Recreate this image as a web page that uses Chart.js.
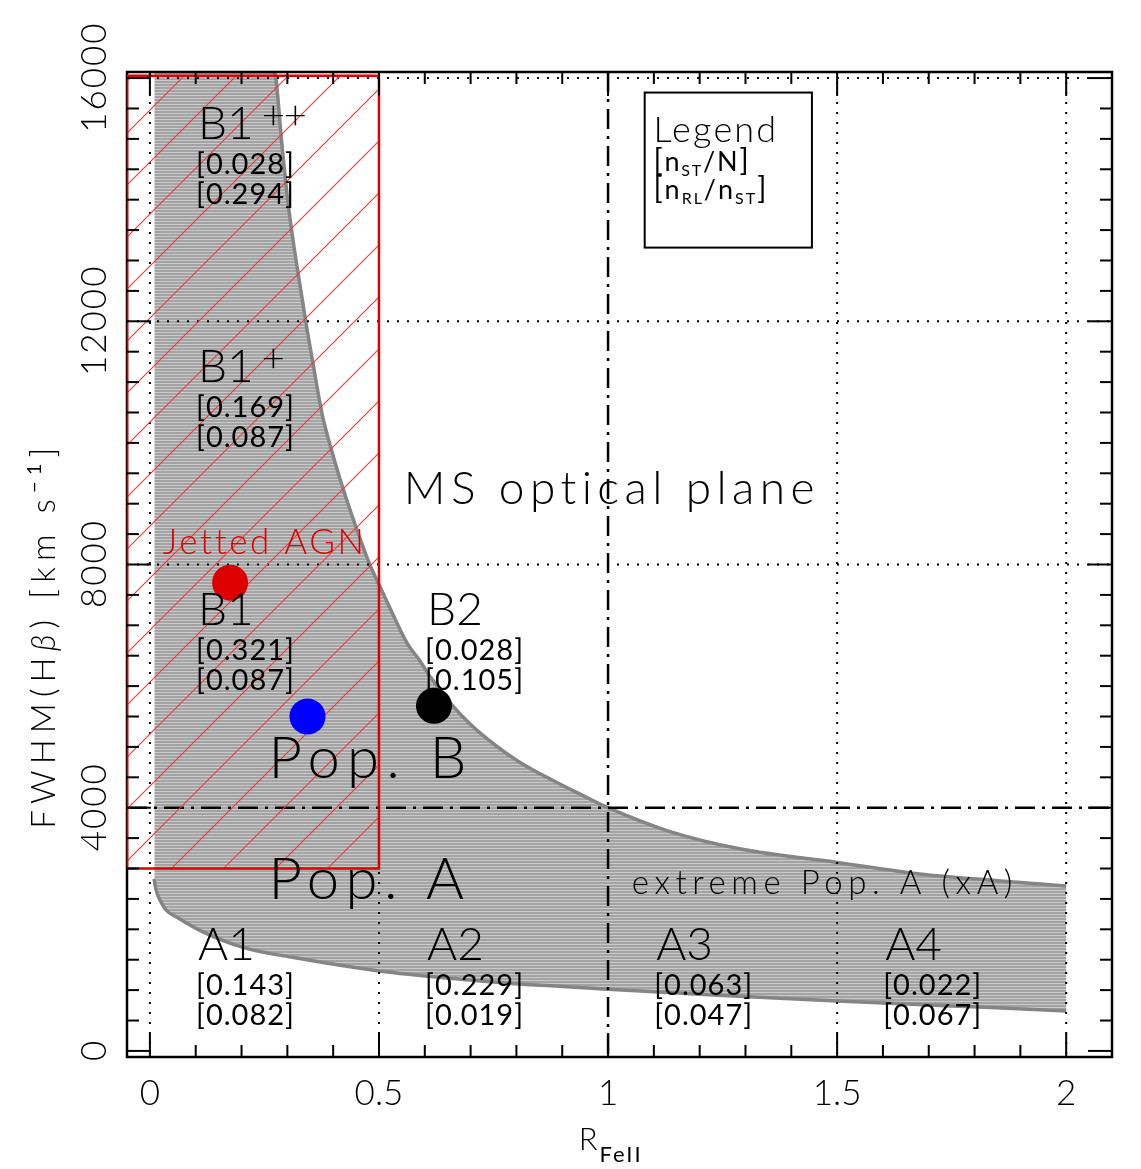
<!DOCTYPE html>
<html>
<head>
<meta charset="utf-8">
<title>MS optical plane</title>
<script src="https://cdn.jsdelivr.net/npm/chart.js"></script>
<style>
	html, body { margin: 0; padding: 0; background: #fff; }
	canvas { display: block; }
</style>
</head>
<body>
<canvas id="plane" width="1141" height="1169"></canvas>
<script>
// upper envelope of the populated region
const upperX = [0.272, 0.275, 0.287, 0.301, 0.316, 0.333, 0.340, 0.355, 0.376, 0.395, 0.416, 0.440, 0.480, 0.502, 0.526, 0.562, 0.590, 0.613, 0.664, 0.700, 0.737, 0.809, 0.882, 0.940, 1.000, 1.130, 1.290, 1.500, 1.680, 1.850, 2.000];
const upperY = [16100, 16000, 15000, 13980, 13150, 12340, 12000, 11350, 10470, 9920, 9380, 8830, 8000, 7640, 7250, 6700, 6410, 6140, 5650, 5370, 5130, 4740, 4440, 4220, 4000, 3620, 3320, 3100, 2910, 2800, 2714];
// lower envelope
const lowerX = [0.009, 0.012, 0.016, 0.023, 0.035, 0.060, 0.111, 0.205, 0.314, 0.500, 0.678, 0.790, 0.900, 1.000, 1.250, 1.500, 1.750, 2.000];
const lowerY = [2830, 2700, 2580, 2467, 2320, 2193, 1974, 1699, 1535, 1316, 1179, 1110, 1060, 1015, 912, 822, 740, 658];
const bandLeft = 0.01;

// jetted AGN box
const jetBoxX = [-0.05, 0.5];
const jetBoxY = [3000, 16040];

// median positions
const markerNames = ['Jetted', 'Pop. B', 'B2'];
const markerX = [0.175, 0.344, 0.620];
const markerY = [7700, 5500, 5675];

// spectral types and fractions [nST/N] [nRL/nST]
const groupNames = ['B1++', 'B1+', 'B1', 'B2', 'A1', 'A2', 'A3', 'A4'];
const fracST = ['0.028', '0.169', '0.321', '0.028', '0.143', '0.229', '0.063', '0.022'];
const fracRL = ['0.294', '0.087', '0.087', '0.105', '0.082', '0.019', '0.047', '0.067'];

// axes
const xTicks = [0, 0.5, 1, 1.5, 2];
const yTicks = [0, 4000, 8000, 12000, 16000];
const xGrid = [0, 0.5, 1.5, 2];
const yGrid = [8000, 12000, 16000];
const popSplitX = 1.0;
const popSplitY = 4000;

const FAMILY = 'Lato, "Open Sans", "DejaVu Sans", sans-serif';

const canvas = document.getElementById('plane');
const ctx = canvas.getContext('2d');

function stripes() {
	const c = document.createElement('canvas');
	c.width = 4; c.height = 3;
	const g = c.getContext('2d');
	g.fillStyle = '#a3a3a3'; g.fillRect(0, 0, 4, 2);
	g.fillStyle = '#c9c9c9'; g.fillRect(0, 2, 4, 1);
	return ctx.createPattern(c, 'repeat');
}
function hatch() {
	const s = 52;
	const c = document.createElement('canvas');
	c.width = s; c.height = s;
	const g = c.getContext('2d');
	g.strokeStyle = '#e83a3a';
	g.lineWidth = 1.1;
	g.beginPath();
	g.moveTo(-2, s + 2); g.lineTo(s + 2, -2);
	g.moveTo(-2, 2); g.lineTo(2, -2);
	g.moveTo(s - 2, s + 2); g.lineTo(s + 2, s - 2);
	g.stroke();
	return ctx.createPattern(c, 'repeat');
}

const pts = (xs, ys) => xs.map((x, i) => ({x: x, y: ys[i]}));
const upperPts = pts(upperX, upperY);
const lowerPts = pts(lowerX, lowerY);
const bandPts = [{x: bandLeft, y: lowerY[0]}, {x: bandLeft, y: upperY[0]}]
	.concat(upperPts, lowerPts.slice().reverse());
const boxPts = [
	{x: jetBoxX[0], y: jetBoxY[0]}, {x: jetBoxX[0], y: jetBoxY[1]},
	{x: jetBoxX[1], y: jetBoxY[1]}, {x: jetBoxX[1], y: jetBoxY[0]},
	{x: jetBoxX[0], y: jetBoxY[0]}
];

function setFont(c, size, style) {
	const weight = size <= 30 ? 400 : 300;
	c.font = (style || '') + ' ' + weight + ' ' + size + 'px ' + FAMILY;
}
function measure(c, t, sp) {
	c.letterSpacing = '0px';
	const w0 = c.measureText(t).width;
	if (!sp) return w0;
	c.letterSpacing = sp + 'px';
	const w1 = c.measureText(t).width;
	return Math.abs(w1 - w0) < 0.01 ? w0 + sp * t.length : w1;
}
// parts: [text, size, dy, style]
function rich(c, parts, x, y, target, color) {
	let w0 = 0, n = 0;
	for (const p of parts) { setFont(c, p[1], p[3]); w0 += measure(c, p[0], 0); n += p[0].length; }
	const sp = target ? (target - w0) / n : 0;
	let cx = x;
	c.fillStyle = color || '#000';
	c.textAlign = 'left';
	c.textBaseline = 'alphabetic';
	for (const p of parts) {
		setFont(c, p[1], p[3]);
		const w = measure(c, p[0], sp);
		c.letterSpacing = sp + 'px';
		c.fillText(p[0], cx, y + (p[2] || 0));
		cx += w;
	}
	c.letterSpacing = '0px';
	return cx - x;
}
function line(c, x0, y0, x1, y1) {
	c.beginPath(); c.moveTo(x0, y0); c.lineTo(x1, y1); c.stroke();
}

function drawGridAndFrame(chart) {
	const c = chart.ctx, a = chart.chartArea, sx = chart.scales.x, sy = chart.scales.y;
	c.save();
	c.strokeStyle = '#000';
	c.lineWidth = 2;
	c.setLineDash([2, 8]);
	for (const v of xGrid) { const p = sx.getPixelForValue(v); line(c, p, a.top, p, a.bottom); }
	for (const v of yGrid) { const p = sy.getPixelForValue(v); line(c, a.left, p, a.right, p); }
	c.lineWidth = 2.5;
	c.setLineDash([20, 7, 3, 7]);
	let p = sx.getPixelForValue(popSplitX); line(c, p, a.top, p, a.bottom);
	p = sy.getPixelForValue(popSplitY); line(c, a.left, p, a.right, p);
	c.setLineDash([]);
	c.lineWidth = 2.5;
	c.strokeRect(a.left, a.top, a.right - a.left, a.bottom - a.top);
	c.restore();
}

function drawTicks(chart) {
	const c = chart.ctx, a = chart.chartArea, sx = chart.scales.x, sy = chart.scales.y;
	c.save();
	c.strokeStyle = '#000';
	c.lineWidth = 2;
	for (let i = 0; i <= 20; i++) {
		const v = i / 10, len = i % 5 === 0 ? 24 : 12;
		const p = sx.getPixelForValue(v);
		line(c, p, a.bottom, p, a.bottom - len);
		line(c, p, a.top, p, a.top + len);
	}
	for (let i = 0; i <= 32; i++) {
		const v = i * 500, len = i % 8 === 0 ? 24 : 12;
		const p = sy.getPixelForValue(v);
		line(c, a.left, p, a.left + len, p);
		line(c, a.right, p, a.right - len, p);
	}
	c.restore();
}

function drawTexts(chart) {
	const c = chart.ctx, a = chart.chartArea, sx = chart.scales.x, sy = chart.scales.y;
	const X = v => sx.getPixelForValue(v), Y = v => sy.getPixelForValue(v);
	c.save();

	// y tick labels, rotated
	setFont(c, 35);
	c.fillStyle = '#000';
	for (const t of sy.ticks) {
		c.save();
		c.translate(a.left - 21, Y(t.value));
		c.rotate(-Math.PI / 2);
		c.textAlign = 'center';
		c.textBaseline = 'alphabetic';
		c.letterSpacing = '2px';
		c.fillText(String(t.value), 1, 0);
		c.restore();
	}
	c.letterSpacing = '0px';

	// y title
	c.save();
	c.translate(a.left - 72, Y(6830));
	c.rotate(-Math.PI / 2);
	const yParts = [['FWHM(H', 33], ['\u03b2', 33, 0, 'italic'], [') [km s', 33], ['\u22121', 20, -14], [']', 33]];
	rich(c, yParts, -193, 0, 387);
	c.restore();

	// x title
	rich(c, [['R', 31], ['FeII', 22, 12]], X(0.936), a.bottom + 93, 64);

	// spectral type labels
	const anchors = [[0.105, 15000], [0.105, 11000], [0.105, 7000], [0.605, 7000],
		[0.105, 1500], [0.605, 1500], [1.105, 1500], [1.605, 1500]];
	groupNames.forEach((name, i) => {
		const px = X(anchors[i][0]), py = Y(anchors[i][1]);
		const m = name.match(/^([A-Z]\d)(\+*)$/);
		const w = rich(c, [[m[1], 46]], px, py, 0);
		if (m[2]) rich(c, [[m[2], 40]], px + w + 8, py - 10, m[2].length > 1 ? 44 : 0);
		rich(c, [['[' + fracST[i] + ']', 29]], px - 2, py + 35, 99);
		rich(c, [['[' + fracRL[i] + ']', 29]], px - 2, py + 65, 99);
	});

	// annotations
	rich(c, [['Jetted AGN', 35]], X(0.028), Y(8170), 203, '#dd0000');
	rich(c, [['MS optical plane', 46]], X(0.554), Y(9000), 417);
	rich(c, [['Pop. B', 58]], X(0.259), Y(4490), 205);
	rich(c, [['Pop. A', 58]], X(0.259), Y(2500), 202);
	rich(c, [['extreme Pop. A (xA)', 33]], X(1.052), Y(2582), 386);

	// legend box
	c.strokeStyle = '#000';
	c.lineWidth = 2;
	const lx0 = X(1.080), lx1 = X(1.445), ly0 = Y(15762), ly1 = Y(13212);
	c.strokeRect(lx0, ly0, lx1 - lx0, ly1 - ly0);
	rich(c, [['Legend', 36]], X(1.099), Y(14951), 125);
	rich(c, [['[', 30], ['n', 27], ['ST', 16, 5], ['/N', 27], [']', 30]], X(1.099), Y(14474), 97);
	rich(c, [['[', 30], ['n', 27], ['RL', 16, 5], ['/', 27], ['n', 27], ['ST', 16, 5], [']', 30]], X(1.099), Y(14013), 115);

	c.restore();
}

const planePlugin = {
	id: 'plane',
	afterDatasetDraw(chart, args) {
		if (chart.data.datasets[args.index].label === 'upper envelope') drawGridAndFrame(chart);
	},
	afterDatasetsDraw(chart) { drawTicks(chart); },
	afterDraw(chart) { drawTexts(chart); }
};

new Chart(ctx, {
	type: 'line',
	data: {
		datasets: [
			{
				label: 'medians',
				data: pts(markerX, markerY),
				showLine: false,
				pointRadius: 18,
				pointBackgroundColor: ['#dd0000', '#0000ff', '#000000'],
				pointBorderWidth: 0,
				order: 1
			},
			{
				label: 'jetted box',
				data: boxPts,
				fill: 'shape',
				backgroundColor: hatch(),
				borderColor: '#dd0000',
				borderWidth: 2.5,
				pointRadius: 0,
				order: 3
			},
			{
				label: 'upper envelope',
				data: upperPts,
				borderColor: '#858585',
				borderWidth: 3.5,
				cubicInterpolationMode: 'monotone',
				pointRadius: 0,
				fill: false,
				order: 5
			},
			{
				label: 'lower envelope',
				data: lowerPts,
				borderColor: '#858585',
				borderWidth: 3.5,
				cubicInterpolationMode: 'monotone',
				pointRadius: 0,
				fill: false,
				order: 6
			},
			{
				label: 'band',
				data: bandPts,
				fill: 'shape',
				backgroundColor: stripes(),
				borderWidth: 0,
				pointRadius: 0,
				order: 7
			}
		]
	},
	options: {
		responsive: false,
		animation: false,
		devicePixelRatio: 1,
		layout: { padding: { top: 72, right: 29, left: 0, bottom: 0 } },
		plugins: { legend: { display: false }, tooltip: { enabled: false } },
		scales: {
			x: {
				type: 'linear',
				min: -0.05,
				max: 2.1,
				afterBuildTicks: s => { s.ticks = xTicks.map(v => ({value: v})); },
				afterFit: s => { s.height = 112; },
				ticks: {
					color: '#000',
					padding: 16,
					maxRotation: 0,
					font: { family: FAMILY, size: 35, weight: 300 },
					callback: v => String(v)
				},
				grid: { display: false, drawTicks: false },
				border: { display: false }
			},
			y: {
				type: 'linear',
				min: -100,
				max: 16100,
				afterBuildTicks: s => { s.ticks = yTicks.map(v => ({value: v})); },
				afterFit: s => { s.width = 127; },
				ticks: { display: false },
				grid: { display: false, drawTicks: false },
				border: { display: false }
			}
		}
	},
	plugins: [planePlugin]
});
</script>
</body>
</html>
